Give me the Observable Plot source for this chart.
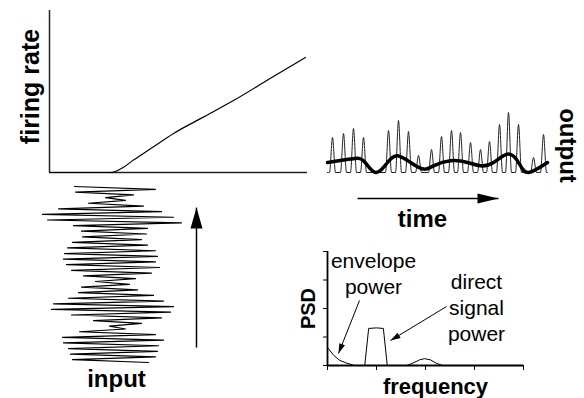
<!DOCTYPE html>
<html><head><meta charset="utf-8">
<script src="https://cdn.jsdelivr.net/npm/d3@7"></script>
<script src="https://cdn.jsdelivr.net/npm/@observablehq/plot@0.6"></script>
<style>
html,body{margin:0;padding:0;background:#fff;}
#fig{position:relative;width:584px;height:398px;overflow:hidden;}
#fig svg{position:absolute;left:0;top:0;background:transparent !important;overflow:visible;}
</style></head><body><div id="fig"></div>
<script>
// ---- data ----
// f-I curve (input current -> firing rate)
const rateInput  = [0, 2.36, 2.87, 3.27, 3.91, 4.81, 6.0, 7.13, 8.5, 9.92];
const rateOutput = [0, 0, 0.33, 0.78, 1.46, 2.41, 3.45, 4.44, 5.75, 7.1];
// input signal: successive left/right extremes (amplitude), top to bottom
const inputExtremes = [-39,42, -38,20, -8,12, -25,30, -55,48, -71,60, -66,68, -40,34,
  -32,33, -31,28, -41,34, -46,42, -49,44, -50,42, -47,46, -42,38,
  -30,22, -18,16, -32,24, -35,40, -45,50, -60,60, -62,57, -42,48,
  -20,28, -4,12, -34,42, -51,50, -50,45, -45,44, -43,42, -41,35];
// output spike train
const spikeTimes   = [0.5, 1.6, 2.6, 3.6, 6.1, 7.1, 8.1, 9.1, 10.4, 11.4, 12.4, 13.3, 14.3, 15.3, 16.2, 17.2, 18.1, 19.1, 20.6, 21.6];
const spikeHeights = [35, 39, 44, 35, 42, 52, 41, 17, 23, 36, 42, 40, 30, 23, 31, 48, 60, 48, 15, 38];
// output envelope (thick line)
const envelopeTimes  = [0, 2.3, 3.6, 4.8, 6, 7, 8.3, 9.6, 10.6, 12.3, 14, 15.3, 16.6, 18.1, 19.2, 20.1, 22];
const envelopeValues = [10, 13.4, 11.7, 0, 10, 16.7, 10, 3.4, 6.7, 11.7, 10, 6.7, 10, 18.4, 8.4, 0, 10];
// power spectral density
const psdFreq  = [0, 0.13, 0.25, 0.38, 0.55, 0.76, 0.84, 1.0, 1.14, 1.22, 1.62, 1.75, 1.88, 1.98, 2.1, 2.22, 2.35, 2.5];
const psdPower = [0.63, 0.35, 0.18, 0.09, 0, 0, 1.3, 1.32, 1.3, 0, 0, 0.09, 0.2, 0.24, 0.2, 0.08, 0, 0];
// annotation arrows in the PSD panel (from label to curve)
const psdArrowFrom = [[0.653, 2.28], [2.43, 2.07]];
const psdArrowTo   = [[0.224, 0.42], [1.286, 0.877]];
// labels
const labels = {rate: "firing rate", input: "input", output: "output", time: "time",
  psd: "PSD", freq: "frequency", env: ["envelope", "power"], direct: ["direct", "signal", "power"]};

// ---- helpers ----
const W = 584, H = 398;
const FONT = "'Liberation Sans', Arial, Helvetica, sans-serif";
const fig = document.getElementById("fig");
function panel(frame, opts) {
  const p = Plot.plot({
    width: W, height: H,
    marginLeft: frame.x0, marginRight: W - frame.x1,
    marginTop: frame.y0, marginBottom: H - frame.y1,
    style: {background: "transparent", overflow: "visible", fontFamily: FONT},
    ...opts
  });
  fig.appendChild(p);
  return p;
}
function head(ux, uy, len, hw) {
  const n = Math.hypot(ux, uy); ux /= n; uy /= n;
  return {draw(ctx) {
    ctx.moveTo(0, 0);
    ctx.lineTo(-ux * len - uy * hw, -uy * len + ux * hw);
    ctx.lineTo(-ux * len + uy * hw, -uy * len - ux * hw);
    ctx.closePath();
  }};
}
const label = (text, o) => Plot.text([text], {text: d => d, textAnchor: "middle", lineAnchor: "middle", fill: "black", ...o});
const AX = "#222";

// ---- panel 1: firing rate vs input ----
const f1 = {x0: 49, x1: 307, y0: 10, y1: 172};
panel(f1, {
  x: {domain: [0, 10], axis: null},
  y: {domain: [0, 10], axis: null},
  marks: [
    Plot.ruleY([0], {stroke: AX, strokeWidth: 1.5}),
    Plot.ruleX([0], {stroke: AX, strokeWidth: 1.5}),
    Plot.line(rateInput.map((x, i) => ({x, y: rateOutput[i]})), {x: "x", y: "y", curve: "monotone-x", stroke: "black", strokeWidth: 1.2}),
    label(labels.rate, {frameAnchor: "left", dx: -19, dy: -5, rotate: -90, fontSize: 25, fontWeight: "bold"})
  ]
});

// ---- panel 2: output spike train ----
const f2 = {x0: 327, x1: 547, y0: 112, y1: 172};
const w = 0.3;
const spikePts = [{t: 0, v: 0}];
spikeTimes.forEach((t, i) => spikePts.push({t: t - w, v: 0}, {t, v: spikeHeights[i]}, {t: t + w, v: 0}));
spikePts.push({t: 22, v: 0});
const timeArrow = [{x1: 3.0, x2: 17.1, y: -26}];
panel(f2, {
  x: {domain: [0, 22], axis: null},
  y: {domain: [0, 60], axis: null},
  marks: [
    Plot.line(spikePts, {x: "t", y: "v", curve: "monotone-x", stroke: "#222", strokeWidth: 1}),
    Plot.line(envelopeTimes.map((t, i) => ({t, v: envelopeValues[i]})), {x: "t", y: "v", curve: "natural", stroke: "black", strokeWidth: 3.5}),
    Plot.link(timeArrow, {x1: "x1", x2: "x2", y1: "y", y2: "y", stroke: "black", strokeWidth: 1.5}),
    Plot.dot(timeArrow, {x: "x2", y: "y", r: 1, symbol: head(1, 0, 21, 5), fill: "black", stroke: "none"}),
    label(labels.output, {frameAnchor: "right", dx: 20, dy: 3, rotate: 90, fontSize: 24, fontWeight: "bold"}),
    label(labels.time, {frameAnchor: "bottom", dx: -15, dy: 47, fontSize: 24, fontWeight: "bold"})
  ]
});

// ---- panel 3: input signal ----
const f3 = {x0: 33, x1: 203, y0: 186, y1: 362};
const upArrow = [{x: 83, y1: 0.915, y2: 0.12}];
panel(f3, {
  x: {domain: [-80, 90], axis: null},
  y: {domain: [0, 1], reverse: true, axis: null},
  marks: [
    Plot.line(inputExtremes.map((a, i) => ({a, i: i / (inputExtremes.length - 1)})), {x: "a", y: "i", stroke: "black", strokeWidth: 1.2}),
    Plot.link(upArrow, {x1: "x", x2: "x", y1: "y1", y2: "y2", stroke: "black", strokeWidth: 1.5}),
    Plot.dot(upArrow, {x: "x", y: "y2", r: 1, symbol: head(0, -1, 21, 6), fill: "black", stroke: "none"}),
    label(labels.input, {frameAnchor: "bottom", dx: -2, dy: 17, fontSize: 24, fontWeight: "bold"})
  ]
});

// ---- panel 4: PSD ----
const f4 = {x0: 327, x1: 523, y0: 251, y1: 365};
const sx = Plot.scale({x: {domain: [0, 4], range: [f4.x0, f4.x1]}});
const sy = Plot.scale({y: {domain: [0, 4], range: [f4.y1, f4.y0]}});
const psdArrows = psdArrowFrom.map((a, i) => ({x1: a[0], y1: a[1], x2: psdArrowTo[i][0], y2: psdArrowTo[i][1]}));
panel(f4, {
  x: {domain: [0, 4], ticks: 4, tickSize: 5, tickFormat: () => "", label: null},
  y: {domain: [0, 4], ticks: 4, tickSize: 4, tickFormat: () => "", label: null},
  marks: [
    Plot.ruleY([0], {stroke: "black", strokeWidth: 1.8}),
    Plot.ruleX([0], {stroke: "black", strokeWidth: 1.8}),
    Plot.line(psdFreq.map((f, i) => ({f, p: psdPower[i]})), {x: "f", y: "p", stroke: "black", strokeWidth: 1}),
    Plot.link(psdArrows, {x1: "x1", y1: "y1", x2: "x2", y2: "y2", stroke: "black", strokeWidth: 1}),
    ...psdArrows.map(a => Plot.dot([a], {x: "x2", y: "y2", r: 1, fill: "black", stroke: "none",
      symbol: head(sx.apply(a.x2) - sx.apply(a.x1), sy.apply(a.y2) - sy.apply(a.y1), 10, 3)})),
    label(labels.psd, {frameAnchor: "left", dx: -19, dy: 0, rotate: -90, fontSize: 20, fontWeight: "bold"}),
    label(labels.freq, {frameAnchor: "bottom", dx: 10, dy: 21, fontSize: 22, fontWeight: "bold"}),
    ...labels.env.map((t, i) => label(t, {frameAnchor: "top-left", dx: 46, dy: 10 + 26 * i, fontSize: 21})),
    ...labels.direct.map((t, i) => label(t, {frameAnchor: "top-left", dx: 149, dy: 31 + 26 * i, fontSize: 21}))
  ]
});
</script></body></html>
